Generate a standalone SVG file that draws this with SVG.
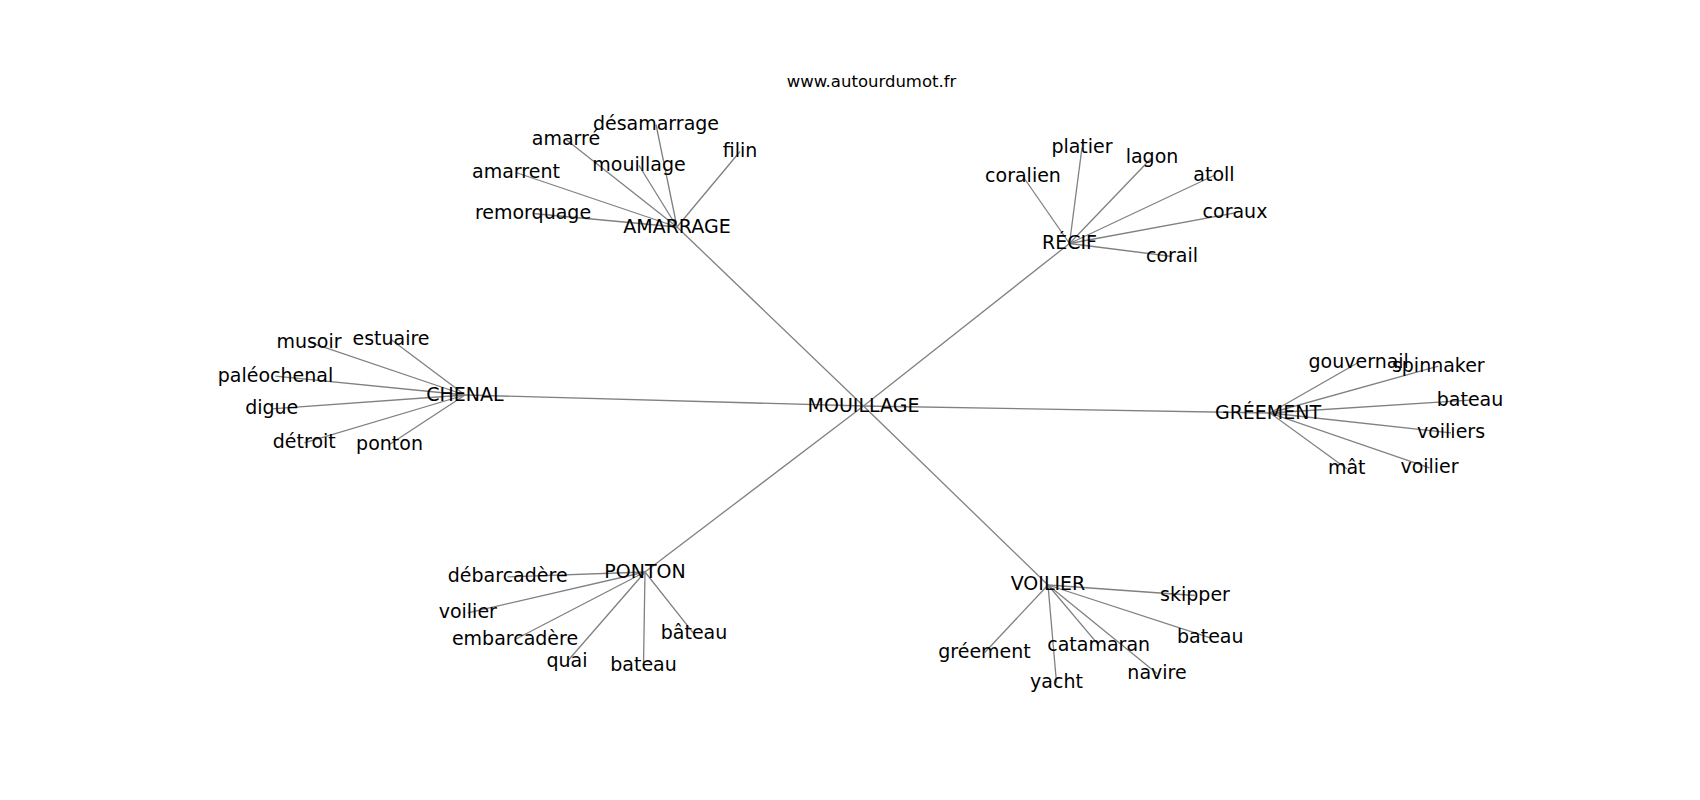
<svg xmlns="http://www.w3.org/2000/svg" width="1700" height="800" viewBox="0 0 1700 800">
<style>
text{font-family:"DejaVu Sans","Liberation Sans",sans-serif;font-size:19px;fill:#000;text-anchor:middle}
.title{font-size:16.5px}
#edges line{stroke:#808080;stroke-width:1.3}
</style>
<rect width="1700" height="800" fill="#fff"/>
<text class="title" x="871.5" y="87.3">www.autourdumot.fr</text>
<g id="edges">
<line x1="863.5" y1="406" x2="677" y2="227"/>
<line x1="863.5" y1="406" x2="1069.5" y2="243.5"/>
<line x1="863.5" y1="406" x2="465" y2="395"/>
<line x1="863.5" y1="406" x2="1270" y2="413"/>
<line x1="863.5" y1="406" x2="645" y2="572"/>
<line x1="863.5" y1="406" x2="1048" y2="585"/>
<line x1="677" y1="227" x2="656" y2="124.5"/>
<line x1="677" y1="227" x2="566" y2="139.5"/>
<line x1="677" y1="227" x2="740" y2="151.5"/>
<line x1="677" y1="227" x2="639" y2="165.5"/>
<line x1="677" y1="227" x2="516" y2="172.5"/>
<line x1="677" y1="227" x2="533" y2="213.5"/>
<line x1="1069.5" y1="243.5" x2="1082" y2="147.5"/>
<line x1="1069.5" y1="243.5" x2="1152" y2="157.5"/>
<line x1="1069.5" y1="243.5" x2="1023" y2="176.5"/>
<line x1="1069.5" y1="243.5" x2="1214" y2="175.5"/>
<line x1="1069.5" y1="243.5" x2="1235" y2="212.8"/>
<line x1="1069.5" y1="243.5" x2="1172" y2="256.5"/>
<line x1="465" y1="395" x2="309" y2="342.2"/>
<line x1="465" y1="395" x2="391" y2="339.5"/>
<line x1="465" y1="395" x2="275.5" y2="376.2"/>
<line x1="465" y1="395" x2="271.7" y2="408.8"/>
<line x1="465" y1="395" x2="304.3" y2="442.8"/>
<line x1="465" y1="395" x2="389.5" y2="444.5"/>
<line x1="1270" y1="413" x2="1358.7" y2="362.2"/>
<line x1="1270" y1="413" x2="1438.3" y2="366.2"/>
<line x1="1270" y1="413" x2="1470" y2="400.2"/>
<line x1="1270" y1="413" x2="1451" y2="432.8"/>
<line x1="1270" y1="413" x2="1346.7" y2="468.8"/>
<line x1="1270" y1="413" x2="1429.5" y2="467.8"/>
<line x1="645" y1="572" x2="507.7" y2="576.8"/>
<line x1="645" y1="572" x2="467.8" y2="612.8"/>
<line x1="645" y1="572" x2="515" y2="639.5"/>
<line x1="645" y1="572" x2="694" y2="633.8"/>
<line x1="645" y1="572" x2="567" y2="661.8"/>
<line x1="645" y1="572" x2="643.5" y2="665.5"/>
<line x1="1048" y1="585" x2="1195" y2="595.5"/>
<line x1="1048" y1="585" x2="1210.3" y2="637.8"/>
<line x1="1048" y1="585" x2="984.5" y2="652.8"/>
<line x1="1048" y1="585" x2="1098.7" y2="645.2"/>
<line x1="1048" y1="585" x2="1157" y2="673.5"/>
<line x1="1048" y1="585" x2="1056.5" y2="682.8"/>
</g>
<g id="n-mouillage-hub"><text x="863.5" y="411.7">MOUILLAGE</text></g>
<g id="n-amarrage"><text x="677" y="232.5">AMARRAGE</text></g>
<g id="n-desamarrage"><text x="656" y="130">désamarrage</text></g>
<g id="n-amarre"><text x="566" y="145">amarré</text></g>
<g id="n-filin"><text x="740" y="157">filin</text></g>
<g id="n-mouillage"><text x="639" y="171">mouillage</text></g>
<g id="n-amarrent"><text x="516" y="178">amarrent</text></g>
<g id="n-remorquage"><text x="533" y="219">remorquage</text></g>
<g id="n-recif"><text x="1069.5" y="249">RÉCIF</text></g>
<g id="n-platier"><text x="1082" y="153">platier</text></g>
<g id="n-lagon"><text x="1152" y="163">lagon</text></g>
<g id="n-coralien"><text x="1023" y="182">coralien</text></g>
<g id="n-atoll"><text x="1214" y="181">atoll</text></g>
<g id="n-coraux"><text x="1235" y="218.3">coraux</text></g>
<g id="n-corail"><text x="1172" y="262">corail</text></g>
<g id="n-chenal"><text x="465" y="400.7">CHENAL</text></g>
<g id="n-musoir"><text x="309" y="347.7">musoir</text></g>
<g id="n-estuaire"><text x="391" y="345">estuaire</text></g>
<g id="n-paleochenal"><text x="275.5" y="381.7">paléochenal</text></g>
<g id="n-digue"><text x="271.7" y="414.3">digue</text></g>
<g id="n-detroit"><text x="304.3" y="448.3">détroit</text></g>
<g id="n-ponton-leaf"><text x="389.5" y="450">ponton</text></g>
<g id="n-greement"><text x="1268" y="419">GRÉEMENT</text></g>
<g id="n-gouvernail"><text x="1358.7" y="367.7">gouvernail</text></g>
<g id="n-spinnaker"><text x="1438.3" y="371.7">spinnaker</text></g>
<g id="n-bateau-g"><text x="1470" y="405.7">bateau</text></g>
<g id="n-voiliers"><text x="1451" y="438.3">voiliers</text></g>
<g id="n-mat"><text x="1346.7" y="474.3">mât</text></g>
<g id="n-voilier-g"><text x="1429.5" y="473.3">voilier</text></g>
<g id="n-ponton"><text x="645" y="577.7">PONTON</text></g>
<g id="n-debarcadere"><text x="507.7" y="582.3">débarcadère</text></g>
<g id="n-voilier-p"><text x="467.8" y="618.3">voilier</text></g>
<g id="n-embarcadere"><text x="515" y="645">embarcadère</text></g>
<g id="n-bateau-accent"><text x="694" y="639.3">bâteau</text></g>
<g id="n-quai"><text x="567" y="667.3">quai</text></g>
<g id="n-bateau-p"><text x="643.5" y="671">bateau</text></g>
<g id="n-voilier"><text x="1048" y="590">VOILIER</text></g>
<g id="n-skipper"><text x="1195" y="601">skipper</text></g>
<g id="n-bateau-v"><text x="1210.3" y="643.3">bateau</text></g>
<g id="n-greement-leaf"><text x="984.5" y="658.3">gréement</text></g>
<g id="n-catamaran"><text x="1098.7" y="650.7">catamaran</text></g>
<g id="n-navire"><text x="1157" y="679">navire</text></g>
<g id="n-yacht"><text x="1056.5" y="688.3">yacht</text></g>
</svg>
